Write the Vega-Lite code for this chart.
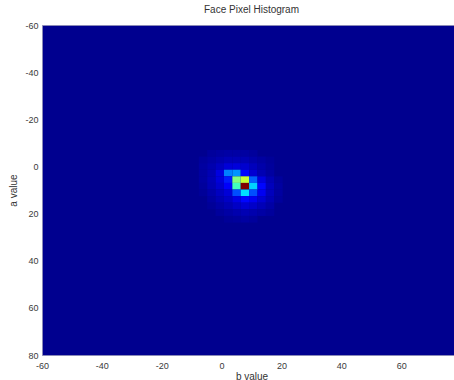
{
  "$schema": "https://vega.github.io/schema/vega-lite/v6.json",
  "autosize": {"type": "none"},
  "padding": {"left": 42, "top": 25, "right": -7, "bottom": 25},
  "width": 419,
  "height": 330,
  "background": "white",
  "title": {
    "text": "Face Pixel Histogram",
    "font": "Liberation Sans",
    "fontSize": 10,
    "fontWeight": "normal",
    "color": "#333333",
    "offset": 6
  },
  "config": {
    "view": {"fill": "#00008f", "stroke": "#8a8ab8", "strokeWidth": 1},
    "axis": {
      "labelFont": "Liberation Sans",
      "titleFont": "Liberation Sans",
      "labelFontSize": 9,
      "titleFontSize": 10,
      "titleFontWeight": "normal",
      "labelColor": "#3a3a3a",
      "titleColor": "#333333",
      "ticks": false,
      "domain": false,
      "grid": false,
      "labelFlush": false,
      "labelExpr": "replace(datum.label, '\u2212', '-')"
    }
  },
  "data": {
    "values": [
      {"b0": -4.8, "b1": -2.0, "a0": -7.0, "a1": -4.2, "n": 15},
      {"b0": -2.0, "b1": 0.8, "a0": -7.0, "a1": -4.2, "n": 20},
      {"b0": 0.8, "b1": 3.6, "a0": -7.0, "a1": -4.2, "n": 25},
      {"b0": 3.6, "b1": 6.4, "a0": -7.0, "a1": -4.2, "n": 25},
      {"b0": 6.4, "b1": 9.2, "a0": -7.0, "a1": -4.2, "n": 20},
      {"b0": 9.2, "b1": 12.0, "a0": -7.0, "a1": -4.2, "n": 15},

      {"b0": -7.6, "b1": -4.8, "a0": -4.2, "a1": -1.4, "n": 15},
      {"b0": -4.8, "b1": -2.0, "a0": -4.2, "a1": -1.4, "n": 25},
      {"b0": -2.0, "b1": 0.8, "a0": -4.2, "a1": -1.4, "n": 35},
      {"b0": 0.8, "b1": 3.6, "a0": -4.2, "a1": -1.4, "n": 45},
      {"b0": 3.6, "b1": 6.4, "a0": -4.2, "a1": -1.4, "n": 45},
      {"b0": 6.4, "b1": 9.2, "a0": -4.2, "a1": -1.4, "n": 40},
      {"b0": 9.2, "b1": 12.0, "a0": -4.2, "a1": -1.4, "n": 30},
      {"b0": 12.0, "b1": 14.8, "a0": -4.2, "a1": -1.4, "n": 20},
      {"b0": 14.8, "b1": 17.6, "a0": -4.2, "a1": -1.4, "n": 10},

      {"b0": -7.6, "b1": -4.8, "a0": -1.4, "a1": 1.4, "n": 20},
      {"b0": -4.8, "b1": -2.0, "a0": -1.4, "a1": 1.4, "n": 35},
      {"b0": -2.0, "b1": 0.8, "a0": -1.4, "a1": 1.4, "n": 55},
      {"b0": 0.8, "b1": 3.6, "a0": -1.4, "a1": 1.4, "n": 80},
      {"b0": 3.6, "b1": 6.4, "a0": -1.4, "a1": 1.4, "n": 85},
      {"b0": 6.4, "b1": 9.2, "a0": -1.4, "a1": 1.4, "n": 70},
      {"b0": 9.2, "b1": 12.0, "a0": -1.4, "a1": 1.4, "n": 50},
      {"b0": 12.0, "b1": 14.8, "a0": -1.4, "a1": 1.4, "n": 30},
      {"b0": 14.8, "b1": 17.6, "a0": -1.4, "a1": 1.4, "n": 15},

      {"b0": -7.6, "b1": -4.8, "a0": 1.4, "a1": 4.2, "n": 20},
      {"b0": -4.8, "b1": -2.0, "a0": 1.4, "a1": 4.2, "n": 40},
      {"b0": -2.0, "b1": 0.8, "a0": 1.4, "a1": 4.2, "n": 90},
      {"b0": 0.8, "b1": 3.6, "a0": 1.4, "a1": 4.2, "n": 250},
      {"b0": 3.6, "b1": 6.4, "a0": 1.4, "a1": 4.2, "n": 270},
      {"b0": 6.4, "b1": 9.2, "a0": 1.4, "a1": 4.2, "n": 130},
      {"b0": 9.2, "b1": 12.0, "a0": 1.4, "a1": 4.2, "n": 75},
      {"b0": 12.0, "b1": 14.8, "a0": 1.4, "a1": 4.2, "n": 40},
      {"b0": 14.8, "b1": 17.6, "a0": 1.4, "a1": 4.2, "n": 20},

      {"b0": -7.6, "b1": -4.8, "a0": 4.2, "a1": 7.0, "n": 20},
      {"b0": -4.8, "b1": -2.0, "a0": 4.2, "a1": 7.0, "n": 45},
      {"b0": -2.0, "b1": 0.8, "a0": 4.2, "a1": 7.0, "n": 85},
      {"b0": 0.8, "b1": 3.6, "a0": 4.2, "a1": 7.0, "n": 150},
      {"b0": 3.6, "b1": 6.4, "a0": 4.2, "a1": 7.0, "n": 500},
      {"b0": 6.4, "b1": 9.2, "a0": 4.2, "a1": 7.0, "n": 570},
      {"b0": 9.2, "b1": 12.0, "a0": 4.2, "a1": 7.0, "n": 220},
      {"b0": 12.0, "b1": 14.8, "a0": 4.2, "a1": 7.0, "n": 90},
      {"b0": 14.8, "b1": 17.6, "a0": 4.2, "a1": 7.0, "n": 40},
      {"b0": 17.6, "b1": 20.4, "a0": 4.2, "a1": 7.0, "n": 15},

      {"b0": -7.6, "b1": -4.8, "a0": 7.0, "a1": 9.8, "n": 15},
      {"b0": -4.8, "b1": -2.0, "a0": 7.0, "a1": 9.8, "n": 40},
      {"b0": -2.0, "b1": 0.8, "a0": 7.0, "a1": 9.8, "n": 70},
      {"b0": 0.8, "b1": 3.6, "a0": 7.0, "a1": 9.8, "n": 120},
      {"b0": 3.6, "b1": 6.4, "a0": 7.0, "a1": 9.8, "n": 440},
      {"b0": 6.4, "b1": 9.2, "a0": 7.0, "a1": 9.8, "n": 1000},
      {"b0": 9.2, "b1": 12.0, "a0": 7.0, "a1": 9.8, "n": 330},
      {"b0": 12.0, "b1": 14.8, "a0": 7.0, "a1": 9.8, "n": 130},
      {"b0": 14.8, "b1": 17.6, "a0": 7.0, "a1": 9.8, "n": 50},
      {"b0": 17.6, "b1": 20.4, "a0": 7.0, "a1": 9.8, "n": 20},

      {"b0": -7.6, "b1": -4.8, "a0": 9.8, "a1": 12.6, "n": 10},
      {"b0": -4.8, "b1": -2.0, "a0": 9.8, "a1": 12.6, "n": 30},
      {"b0": -2.0, "b1": 0.8, "a0": 9.8, "a1": 12.6, "n": 55},
      {"b0": 0.8, "b1": 3.6, "a0": 9.8, "a1": 12.6, "n": 80},
      {"b0": 3.6, "b1": 6.4, "a0": 9.8, "a1": 12.6, "n": 200},
      {"b0": 6.4, "b1": 9.2, "a0": 9.8, "a1": 12.6, "n": 345},
      {"b0": 9.2, "b1": 12.0, "a0": 9.8, "a1": 12.6, "n": 200},
      {"b0": 12.0, "b1": 14.8, "a0": 9.8, "a1": 12.6, "n": 110},
      {"b0": 14.8, "b1": 17.6, "a0": 9.8, "a1": 12.6, "n": 50},
      {"b0": 17.6, "b1": 20.4, "a0": 9.8, "a1": 12.6, "n": 20},

      {"b0": -4.8, "b1": -2.0, "a0": 12.6, "a1": 15.4, "n": 20},
      {"b0": -2.0, "b1": 0.8, "a0": 12.6, "a1": 15.4, "n": 40},
      {"b0": 0.8, "b1": 3.6, "a0": 12.6, "a1": 15.4, "n": 60},
      {"b0": 3.6, "b1": 6.4, "a0": 12.6, "a1": 15.4, "n": 95},
      {"b0": 6.4, "b1": 9.2, "a0": 12.6, "a1": 15.4, "n": 130},
      {"b0": 9.2, "b1": 12.0, "a0": 12.6, "a1": 15.4, "n": 110},
      {"b0": 12.0, "b1": 14.8, "a0": 12.6, "a1": 15.4, "n": 75},
      {"b0": 14.8, "b1": 17.6, "a0": 12.6, "a1": 15.4, "n": 40},
      {"b0": 17.6, "b1": 20.4, "a0": 12.6, "a1": 15.4, "n": 15},

      {"b0": -4.8, "b1": -2.0, "a0": 15.4, "a1": 18.2, "n": 10},
      {"b0": -2.0, "b1": 0.8, "a0": 15.4, "a1": 18.2, "n": 25},
      {"b0": 0.8, "b1": 3.6, "a0": 15.4, "a1": 18.2, "n": 40},
      {"b0": 3.6, "b1": 6.4, "a0": 15.4, "a1": 18.2, "n": 60},
      {"b0": 6.4, "b1": 9.2, "a0": 15.4, "a1": 18.2, "n": 75},
      {"b0": 9.2, "b1": 12.0, "a0": 15.4, "a1": 18.2, "n": 65},
      {"b0": 12.0, "b1": 14.8, "a0": 15.4, "a1": 18.2, "n": 45},
      {"b0": 14.8, "b1": 17.6, "a0": 15.4, "a1": 18.2, "n": 25},

      {"b0": -2.0, "b1": 0.8, "a0": 18.2, "a1": 21.0, "n": 15},
      {"b0": 0.8, "b1": 3.6, "a0": 18.2, "a1": 21.0, "n": 25},
      {"b0": 3.6, "b1": 6.4, "a0": 18.2, "a1": 21.0, "n": 35},
      {"b0": 6.4, "b1": 9.2, "a0": 18.2, "a1": 21.0, "n": 40},
      {"b0": 9.2, "b1": 12.0, "a0": 18.2, "a1": 21.0, "n": 35},
      {"b0": 12.0, "b1": 14.8, "a0": 18.2, "a1": 21.0, "n": 25},
      {"b0": 14.8, "b1": 17.6, "a0": 18.2, "a1": 21.0, "n": 15},

      {"b0": 0.8, "b1": 3.6, "a0": 21.0, "a1": 23.8, "n": 10},
      {"b0": 3.6, "b1": 6.4, "a0": 21.0, "a1": 23.8, "n": 15},
      {"b0": 6.4, "b1": 9.2, "a0": 21.0, "a1": 23.8, "n": 20},
      {"b0": 9.2, "b1": 12.0, "a0": 21.0, "a1": 23.8, "n": 15}
    ]
  },
  "mark": {"type": "rect", "strokeWidth": 0},
  "encoding": {
    "x": {
      "field": "b0",
      "type": "quantitative",
      "scale": {"domain": [-60, 80], "nice": false, "zero": false},
      "axis": {
        "title": "b value",
        "values": [-60, -40, -20, 0, 20, 40, 60, 80],
        "labelPadding": 6,
        "titlePadding": 1
      }
    },
    "x2": {"field": "b1"},
    "y": {
      "field": "a0",
      "type": "quantitative",
      "scale": {"domain": [-60, 80], "nice": false, "zero": false, "reverse": true},
      "axis": {
        "title": "a value",
        "values": [-60, -40, -20, 0, 20, 40, 60, 80],
        "labelPadding": 4,
        "titlePadding": 6
      }
    },
    "y2": {"field": "a1"},
    "color": {
      "field": "n",
      "type": "quantitative",
      "scale": {
        "domain": [0, 125, 375, 625, 875, 1000],
        "range": ["#00008f", "#0000ff", "#00ffff", "#ffff00", "#ff0000", "#800000"],
        "interpolate": "rgb"
      },
      "legend": null
    }
  }
}
